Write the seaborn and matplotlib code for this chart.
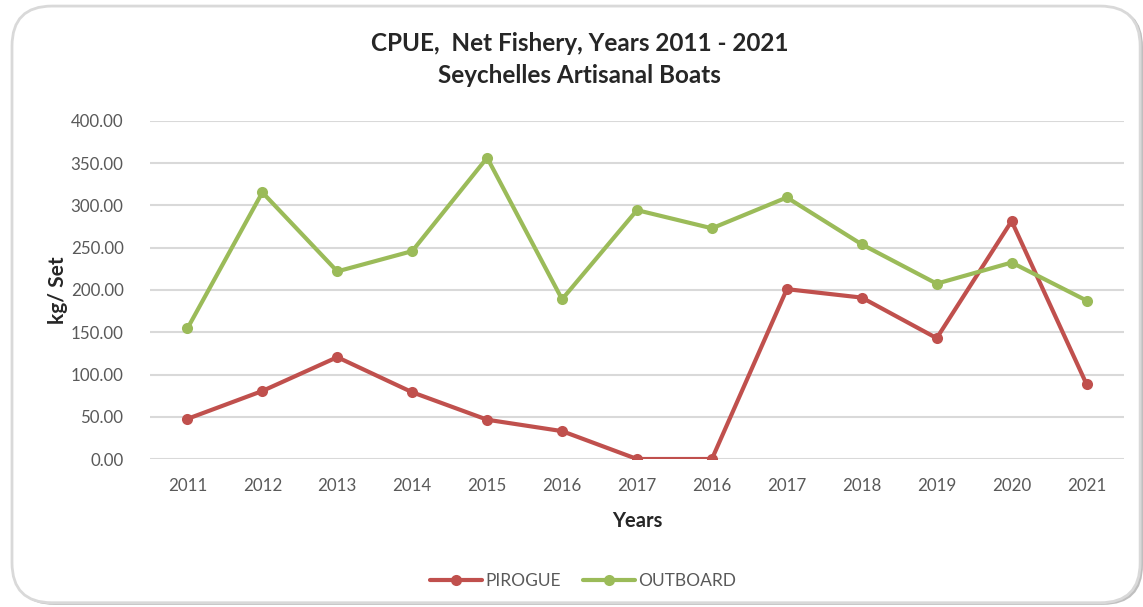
# -*- coding: utf-8 -*-
import numpy as np
import pandas as pd
import seaborn as sns
from matplotlib import pyplot as plt
from matplotlib import patches

# data (year labels repeat in the original)
years = ['2011', '2012', '2013', '2014', '2015', '2016', '2017',
         '2016', '2017', '2018', '2019', '2020', '2021']
pirogue = [47.5, 80.5, 120.5, 79.0, 46.5, 33.0, 0.0,
           0.0, 201.0, 191.0, 143.0, 281.5, 88.5]
outboard = [154.5, 315.5, 222.0, 246.0, 356.5, 189.0, 294.5,
            273.0, 309.5, 254.0, 207.5, 232.5, 187.5]
series_names = ['PIROGUE', 'OUTBOARD']
series_colors = ['#C0504D', '#9BBB59']

pos = np.arange(len(years))
df = pd.concat([
    pd.DataFrame({'pos': pos, 'value': pirogue, 'series': series_names[0]}),
    pd.DataFrame({'pos': pos, 'value': outboard, 'series': series_names[1]}),
])

sns.set_style('white')
plt.rcParams['font.family'] = ['Lato', 'DejaVu Sans']

fig = plt.figure(figsize=(11.43, 6.07), dpi=100)

# rounded chart frame with a faint shadow
shadow = patches.FancyBboxPatch((0.0125, 0.0035), 0.9875, 0.985,
                                boxstyle='round,pad=0,rounding_size=0.035',
                                transform=fig.transFigure, facecolor='#BFBFBF',
                                edgecolor='none', mutation_aspect=1143 / 607,
                                zorder=0)
frame = patches.FancyBboxPatch((0.0105, 0.007), 0.987, 0.983,
                               boxstyle='round,pad=0,rounding_size=0.035',
                               transform=fig.transFigure, facecolor='white',
                               edgecolor='#D9D9D9', linewidth=2,
                               mutation_aspect=1143 / 607, zorder=1)
fig.patches.extend([shadow, frame])

ax = fig.add_axes([0.1312, 0.2438, 0.8522, 0.5569])
ax.set_facecolor('none')
ax.set_zorder(2)

sns.lineplot(data=df, x='pos', y='value', hue='series', palette=series_colors,
             marker='o', markersize=8, markeredgewidth=0, linewidth=3,
             ax=ax, legend=False)

ax.set_xlim(-0.5, len(years) - 0.5)
ax.set_ylim(0, 400)
ax.set_yticks(np.arange(0, 401, 50))
ax.set_yticklabels(['%.2f' % v for v in np.arange(0, 401, 50)])
ax.set_xticks(pos)
ax.set_xticklabels(years)
ax.tick_params(axis='both', length=0, labelsize=12.2, colors='#595959')
ax.tick_params(axis='x', pad=14)
ax.tick_params(axis='y', pad=19)
ax.grid(axis='y', color='#D9D9D9', linewidth=1.5)
ax.set_axisbelow(True)
for s in ax.spines.values():
    s.set_visible(False)

ax.set_xlabel('Years', fontsize=14.5, fontweight='bold', labelpad=12)
ax.set_ylabel('kg/ Set', fontsize=15, fontweight='bold', labelpad=2)

fig.text(0.507, 0.928, 'CPUE,  Net Fishery, Years 2011 - 2021', ha='center',
         va='center', fontsize=17.5, fontweight='bold')
fig.text(0.507, 0.876, 'Seychelles Artisanal Boats', ha='center',
         va='center', fontsize=17.5, fontweight='bold')

handles = [plt.Line2D([], [], color=c, linewidth=3, marker='o', markersize=8,
                      markeredgewidth=0) for c in series_colors]
leg = fig.legend(handles, series_names, loc='center', ncol=2,
                 bbox_to_anchor=(0.51, 0.043), frameon=False, fontsize=12.5,
                 handlelength=3.0, handletextpad=0.15, columnspacing=1.3)
for t in leg.get_texts():
    t.set_color('#595959')

fig.savefig('out.png', dpi=100)
